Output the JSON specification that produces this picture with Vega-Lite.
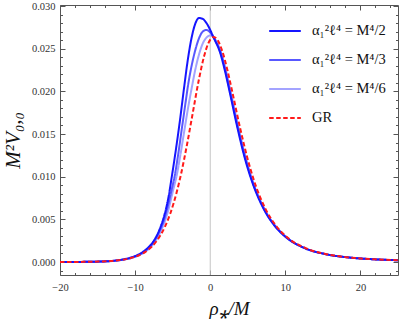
{
  "$schema": "https://vega.github.io/schema/vega-lite/v6.json",
  "width": 338,
  "height": 270,
  "autosize": "none",
  "padding": {"left": 60, "top": 5, "right": 1, "bottom": 52},
  "background": "white",
  "config": {
    "view": {"stroke": "#555555", "strokeWidth": 1},
    "axis": {"domain": false, "grid": false, "labelFont": "Liberation Serif", "labelFontSize": 10.5, "labelColor": "#333333", "tickColor": "#555555", "titleFont": "Liberation Serif", "titleColor": "#111111", "titleFontWeight": "normal", "labelFlush": false}
  },
  "datasets": {
    "curves": [
      {"s": "α₁²ℓ⁴ = M⁴/6", "x": -20, "y": 0.000005},
      {"s": "α₁²ℓ⁴ = M⁴/6", "x": -17, "y": 0.000016},
      {"s": "α₁²ℓ⁴ = M⁴/6", "x": -14, "y": 0.00007},
      {"s": "α₁²ℓ⁴ = M⁴/6", "x": -12, "y": 0.00021},
      {"s": "α₁²ℓ⁴ = M⁴/6", "x": -10.5, "y": 0.00047},
      {"s": "α₁²ℓ⁴ = M⁴/6", "x": -9.5, "y": 0.0008},
      {"s": "α₁²ℓ⁴ = M⁴/6", "x": -8.5, "y": 0.0013},
      {"s": "α₁²ℓ⁴ = M⁴/6", "x": -7.5, "y": 0.0022},
      {"s": "α₁²ℓ⁴ = M⁴/6", "x": -6.8, "y": 0.0032},
      {"s": "α₁²ℓ⁴ = M⁴/6", "x": -6.2, "y": 0.0044},
      {"s": "α₁²ℓ⁴ = M⁴/6", "x": -5.6, "y": 0.006},
      {"s": "α₁²ℓ⁴ = M⁴/6", "x": -5, "y": 0.0082},
      {"s": "α₁²ℓ⁴ = M⁴/6", "x": -4.45, "y": 0.0102},
      {"s": "α₁²ℓ⁴ = M⁴/6", "x": -4, "y": 0.0124},
      {"s": "α₁²ℓ⁴ = M⁴/6", "x": -3.5, "y": 0.0151},
      {"s": "α₁²ℓ⁴ = M⁴/6", "x": -3, "y": 0.0178},
      {"s": "α₁²ℓ⁴ = M⁴/6", "x": -2.4, "y": 0.0207},
      {"s": "α₁²ℓ⁴ = M⁴/6", "x": -2, "y": 0.0225},
      {"s": "α₁²ℓ⁴ = M⁴/6", "x": -1.5, "y": 0.0243},
      {"s": "α₁²ℓ⁴ = M⁴/6", "x": -1, "y": 0.0256},
      {"s": "α₁²ℓ⁴ = M⁴/6", "x": -0.5, "y": 0.0263},
      {"s": "α₁²ℓ⁴ = M⁴/6", "x": 0, "y": 0.02655},
      {"s": "α₁²ℓ⁴ = M⁴/6", "x": 0.4, "y": 0.0264},
      {"s": "α₁²ℓ⁴ = M⁴/6", "x": 0.8, "y": 0.0259},
      {"s": "α₁²ℓ⁴ = M⁴/6", "x": 1.4, "y": 0.02469},
      {"s": "α₁²ℓ⁴ = M⁴/6", "x": 2.1, "y": 0.02241},
      {"s": "α₁²ℓ⁴ = M⁴/6", "x": 2.72, "y": 0.01999},
      {"s": "α₁²ℓ⁴ = M⁴/6", "x": 3.8, "y": 0.015625},
      {"s": "α₁²ℓ⁴ = M⁴/6", "x": 4.75, "y": 0.012193},
      {"s": "α₁²ℓ⁴ = M⁴/6", "x": 5.62, "y": 0.0096},
      {"s": "α₁²ℓ⁴ = M⁴/6", "x": 7.25, "y": 0.006173},
      {"s": "α₁²ℓ⁴ = M⁴/6", "x": 8.73, "y": 0.004165},
      {"s": "α₁²ℓ⁴ = M⁴/6", "x": 10.12, "y": 0.00293},
      {"s": "α₁²ℓ⁴ = M⁴/6", "x": 12.7, "y": 0.0016},
      {"s": "α₁²ℓ⁴ = M⁴/6", "x": 15.17, "y": 0.000965},
      {"s": "α₁²ℓ⁴ = M⁴/6", "x": 18.72, "y": 0.000514},
      {"s": "α₁²ℓ⁴ = M⁴/6", "x": 22.15, "y": 0.000305},
      {"s": "α₁²ℓ⁴ = M⁴/6", "x": 25.5, "y": 0.000195},

      {"s": "α₁²ℓ⁴ = M⁴/3", "x": -20, "y": 0.000005},
      {"s": "α₁²ℓ⁴ = M⁴/3", "x": -17, "y": 0.000017},
      {"s": "α₁²ℓ⁴ = M⁴/3", "x": -14, "y": 0.000075},
      {"s": "α₁²ℓ⁴ = M⁴/3", "x": -12, "y": 0.00023},
      {"s": "α₁²ℓ⁴ = M⁴/3", "x": -10.5, "y": 0.0005},
      {"s": "α₁²ℓ⁴ = M⁴/3", "x": -9.5, "y": 0.00085},
      {"s": "α₁²ℓ⁴ = M⁴/3", "x": -8.5, "y": 0.0014},
      {"s": "α₁²ℓ⁴ = M⁴/3", "x": -7.5, "y": 0.0024},
      {"s": "α₁²ℓ⁴ = M⁴/3", "x": -6.8, "y": 0.0035},
      {"s": "α₁²ℓ⁴ = M⁴/3", "x": -6.2, "y": 0.0048},
      {"s": "α₁²ℓ⁴ = M⁴/3", "x": -5.6, "y": 0.0067},
      {"s": "α₁²ℓ⁴ = M⁴/3", "x": -5.1, "y": 0.0086},
      {"s": "α₁²ℓ⁴ = M⁴/3", "x": -4.75, "y": 0.01},
      {"s": "α₁²ℓ⁴ = M⁴/3", "x": -4.3, "y": 0.0124},
      {"s": "α₁²ℓ⁴ = M⁴/3", "x": -3.8, "y": 0.0155},
      {"s": "α₁²ℓ⁴ = M⁴/3", "x": -3.3, "y": 0.0186},
      {"s": "α₁²ℓ⁴ = M⁴/3", "x": -2.9, "y": 0.021},
      {"s": "α₁²ℓ⁴ = M⁴/3", "x": -2.5, "y": 0.0229},
      {"s": "α₁²ℓ⁴ = M⁴/3", "x": -2, "y": 0.0248},
      {"s": "α₁²ℓ⁴ = M⁴/3", "x": -1.5, "y": 0.0262},
      {"s": "α₁²ℓ⁴ = M⁴/3", "x": -1, "y": 0.027},
      {"s": "α₁²ℓ⁴ = M⁴/3", "x": -0.5, "y": 0.0272},
      {"s": "α₁²ℓ⁴ = M⁴/3", "x": 0, "y": 0.0269},
      {"s": "α₁²ℓ⁴ = M⁴/3", "x": 0.4, "y": 0.0264},
      {"s": "α₁²ℓ⁴ = M⁴/3", "x": 0.7, "y": 0.0259},
      {"s": "α₁²ℓ⁴ = M⁴/3", "x": 1.33, "y": 0.02469},
      {"s": "α₁²ℓ⁴ = M⁴/3", "x": 2.03, "y": 0.02241},
      {"s": "α₁²ℓ⁴ = M⁴/3", "x": 2.64, "y": 0.01999},
      {"s": "α₁²ℓ⁴ = M⁴/3", "x": 3.72, "y": 0.015625},
      {"s": "α₁²ℓ⁴ = M⁴/3", "x": 4.67, "y": 0.012193},
      {"s": "α₁²ℓ⁴ = M⁴/3", "x": 5.56, "y": 0.0096},
      {"s": "α₁²ℓ⁴ = M⁴/3", "x": 7.2, "y": 0.006173},
      {"s": "α₁²ℓ⁴ = M⁴/3", "x": 8.7, "y": 0.004165},
      {"s": "α₁²ℓ⁴ = M⁴/3", "x": 10.08, "y": 0.00293},
      {"s": "α₁²ℓ⁴ = M⁴/3", "x": 12.68, "y": 0.0016},
      {"s": "α₁²ℓ⁴ = M⁴/3", "x": 15.15, "y": 0.000965},
      {"s": "α₁²ℓ⁴ = M⁴/3", "x": 18.7, "y": 0.000514},
      {"s": "α₁²ℓ⁴ = M⁴/3", "x": 22.14, "y": 0.000305},
      {"s": "α₁²ℓ⁴ = M⁴/3", "x": 25.5, "y": 0.000195},

      {"s": "α₁²ℓ⁴ = M⁴/2", "x": -20, "y": 0.000005},
      {"s": "α₁²ℓ⁴ = M⁴/2", "x": -17, "y": 0.000018},
      {"s": "α₁²ℓ⁴ = M⁴/2", "x": -14, "y": 0.00008},
      {"s": "α₁²ℓ⁴ = M⁴/2", "x": -12, "y": 0.00025},
      {"s": "α₁²ℓ⁴ = M⁴/2", "x": -10.5, "y": 0.00055},
      {"s": "α₁²ℓ⁴ = M⁴/2", "x": -9.5, "y": 0.0009},
      {"s": "α₁²ℓ⁴ = M⁴/2", "x": -8.5, "y": 0.0015},
      {"s": "α₁²ℓ⁴ = M⁴/2", "x": -7.5, "y": 0.0025},
      {"s": "α₁²ℓ⁴ = M⁴/2", "x": -6.8, "y": 0.0037},
      {"s": "α₁²ℓ⁴ = M⁴/2", "x": -6.2, "y": 0.0052},
      {"s": "α₁²ℓ⁴ = M⁴/2", "x": -5.6, "y": 0.0074},
      {"s": "α₁²ℓ⁴ = M⁴/2", "x": -5.1, "y": 0.0101},
      {"s": "α₁²ℓ⁴ = M⁴/2", "x": -4.5, "y": 0.0136},
      {"s": "α₁²ℓ⁴ = M⁴/2", "x": -4, "y": 0.0168},
      {"s": "α₁²ℓ⁴ = M⁴/2", "x": -3.5, "y": 0.0203},
      {"s": "α₁²ℓ⁴ = M⁴/2", "x": -3, "y": 0.0236},
      {"s": "α₁²ℓ⁴ = M⁴/2", "x": -2.5, "y": 0.0262},
      {"s": "α₁²ℓ⁴ = M⁴/2", "x": -2, "y": 0.0279},
      {"s": "α₁²ℓ⁴ = M⁴/2", "x": -1.5, "y": 0.0286},
      {"s": "α₁²ℓ⁴ = M⁴/2", "x": -1, "y": 0.0285},
      {"s": "α₁²ℓ⁴ = M⁴/2", "x": -0.5, "y": 0.028},
      {"s": "α₁²ℓ⁴ = M⁴/2", "x": 0, "y": 0.0272},
      {"s": "α₁²ℓ⁴ = M⁴/2", "x": 0.3, "y": 0.0266},
      {"s": "α₁²ℓ⁴ = M⁴/2", "x": 0.62, "y": 0.026},
      {"s": "α₁²ℓ⁴ = M⁴/2", "x": 1.26, "y": 0.02469},
      {"s": "α₁²ℓ⁴ = M⁴/2", "x": 1.96, "y": 0.02241},
      {"s": "α₁²ℓ⁴ = M⁴/2", "x": 2.575, "y": 0.01999},
      {"s": "α₁²ℓ⁴ = M⁴/2", "x": 3.65, "y": 0.015625},
      {"s": "α₁²ℓ⁴ = M⁴/2", "x": 4.6, "y": 0.012193},
      {"s": "α₁²ℓ⁴ = M⁴/2", "x": 5.5, "y": 0.0096},
      {"s": "α₁²ℓ⁴ = M⁴/2", "x": 7.15, "y": 0.006173},
      {"s": "α₁²ℓ⁴ = M⁴/2", "x": 8.65, "y": 0.004165},
      {"s": "α₁²ℓ⁴ = M⁴/2", "x": 10.05, "y": 0.00293},
      {"s": "α₁²ℓ⁴ = M⁴/2", "x": 12.65, "y": 0.0016},
      {"s": "α₁²ℓ⁴ = M⁴/2", "x": 15.13, "y": 0.000965},
      {"s": "α₁²ℓ⁴ = M⁴/2", "x": 18.7, "y": 0.000514},
      {"s": "α₁²ℓ⁴ = M⁴/2", "x": 22.13, "y": 0.000305},
      {"s": "α₁²ℓ⁴ = M⁴/2", "x": 25.5, "y": 0.000195},

      {"s": "GR", "x": -20, "y": 0.000004},
      {"s": "GR", "x": -17.8, "y": 0.0000125},
      {"s": "GR", "x": -15.5, "y": 0.00004},
      {"s": "GR", "x": -13.2, "y": 0.000125},
      {"s": "GR", "x": -11, "y": 0.000374},
      {"s": "GR", "x": -10, "y": 0.000612},
      {"s": "GR", "x": -9, "y": 0.001001},
      {"s": "GR", "x": -8.587, "y": 0.001225},
      {"s": "GR", "x": -7.19, "y": 0.002402},
      {"s": "GR", "x": -6.056, "y": 0.004082},
      {"s": "GR", "x": -5.328, "y": 0.005662},
      {"s": "GR", "x": -4.492, "y": 0.008091},
      {"s": "GR", "x": -3.891, "y": 0.010284},
      {"s": "GR", "x": -3.031, "y": 0.01404},
      {"s": "GR", "x": -2.405, "y": 0.017075},
      {"s": "GR", "x": -1.494, "y": 0.02144},
      {"s": "GR", "x": -0.819, "y": 0.02411},
      {"s": "GR", "x": -0.273, "y": 0.0256},
      {"s": "GR", "x": 0.192, "y": 0.02626},
      {"s": "GR", "x": 0.47, "y": 0.02637},
      {"s": "GR", "x": 0.967, "y": 0.02603},
      {"s": "GR", "x": 1.614, "y": 0.02469},
      {"s": "GR", "x": 2.31, "y": 0.02241},
      {"s": "GR", "x": 2.925, "y": 0.01999},
      {"s": "GR", "x": 4, "y": 0.015625},
      {"s": "GR", "x": 4.946, "y": 0.012193},
      {"s": "GR", "x": 5.811, "y": 0.0096},
      {"s": "GR", "x": 7.386, "y": 0.006173},
      {"s": "GR", "x": 8.833, "y": 0.004165},
      {"s": "GR", "x": 10.197, "y": 0.00293},
      {"s": "GR", "x": 12.773, "y": 0.0016},
      {"s": "GR", "x": 15.219, "y": 0.000965},
      {"s": "GR", "x": 18.744, "y": 0.000514},
      {"s": "GR", "x": 22.159, "y": 0.000305},
      {"s": "GR", "x": 25.503, "y": 0.000195}
    ],
    "zero": [{"x": 0}],
    "frame": [{"x": -20, "y": 0}, {"x": 25, "y": 0.03}]
  },
  "resolve": {"axis": {"x": "independent", "y": "independent"}},
  "layer": [
    {
      "data": {"name": "zero"},
      "mark": {"type": "rule", "color": "#c4c4c4", "strokeWidth": 1},
      "encoding": {
        "x": {"field": "x", "type": "quantitative", "scale": {"domain": [-20, 25], "nice": false, "zero": false},
          "axis": {"orient": "top", "values": [-20, -10, 0, 10, 20], "tickSize": -5, "labels": false, "title": null}}
      }
    },
    {
      "data": {"name": "frame"},
      "mark": {"type": "point", "opacity": 0},
      "encoding": {
        "x": {"field": "x", "type": "quantitative", "scale": {"domain": [-20, 25], "nice": false, "zero": false},
          "axis": {"orient": "bottom", "values": [-18, -16, -14, -12, -8, -6, -4, -2, 2, 4, 6, 8, 12, 14, 16, 18, 22, 24], "tickSize": -2.5, "labels": false, "title": null}},
        "y": {"field": "y", "type": "quantitative", "scale": {"domain": [-0.00152, 0.03012], "nice": false, "zero": false},
          "axis": {"orient": "left", "values": [-0.001, 0.001, 0.002, 0.003, 0.004, 0.006, 0.007, 0.008, 0.009, 0.011, 0.012, 0.013, 0.014, 0.016, 0.017, 0.018, 0.019, 0.021, 0.022, 0.023, 0.024, 0.026, 0.027, 0.028, 0.029], "tickSize": -2.5, "labels": false, "title": null}}
      }
    },
    {
      "data": {"name": "frame"},
      "mark": {"type": "point", "opacity": 0},
      "encoding": {
        "x": {"field": "x", "type": "quantitative", "scale": {"domain": [-20, 25], "nice": false, "zero": false},
          "axis": {"orient": "top", "values": [-18, -16, -14, -12, -8, -6, -4, -2, 2, 4, 6, 8, 12, 14, 16, 18, 22, 24], "tickSize": -2.5, "labels": false, "title": null}},
        "y": {"field": "y", "type": "quantitative", "scale": {"domain": [-0.00152, 0.03012], "nice": false, "zero": false},
          "axis": {"orient": "right", "values": [-0.001, 0.001, 0.002, 0.003, 0.004, 0.006, 0.007, 0.008, 0.009, 0.011, 0.012, 0.013, 0.014, 0.016, 0.017, 0.018, 0.019, 0.021, 0.022, 0.023, 0.024, 0.026, 0.027, 0.028, 0.029], "tickSize": -2.5, "labels": false, "title": null}}
      }
    },
    {
      "data": {"name": "frame"},
      "mark": {"type": "point", "opacity": 0},
      "encoding": {
        "x": {"field": "x", "type": "quantitative", "scale": {"domain": [-20, 25], "nice": false, "zero": false}, "axis": null},
        "y": {"field": "y", "type": "quantitative", "scale": {"domain": [-0.00152, 0.03012], "nice": false, "zero": false},
          "axis": {"orient": "right", "values": [0, 0.005, 0.01, 0.015, 0.02, 0.025, 0.03], "tickSize": -5, "labels": false, "title": null}}
      }
    },
    {
      "data": {"name": "curves"},
      "mark": {"type": "line", "strokeWidth": 2, "interpolate": "monotone", "clip": true},
      "encoding": {
        "x": {"field": "x", "type": "quantitative", "scale": {"domain": [-20, 25], "nice": false, "zero": false},
          "axis": {"orient": "bottom", "values": [-20, -10, 0, 10, 20], "tickSize": -5, "labelPadding": 12, "labelFlush": false, "title": "ρ⁎/M", "titleFontSize": 19, "titleFontStyle": "italic", "titlePadding": 7}},
        "y": {"field": "y", "type": "quantitative", "scale": {"domain": [-0.00152, 0.03012], "nice": false, "zero": false},
          "axis": {"orient": "left", "values": [0, 0.005, 0.01, 0.015, 0.02, 0.025, 0.03], "format": ".3f", "tickSize": -5, "labelPadding": 10, "title": "M²V₀,₀", "titleFontSize": 21, "titleFontStyle": "italic", "titlePadding": 8}},
        "color": {"field": "s", "type": "nominal",
          "scale": {"domain": ["α₁²ℓ⁴ = M⁴/2", "α₁²ℓ⁴ = M⁴/3", "α₁²ℓ⁴ = M⁴/6", "GR"], "range": ["#1515ff", "#5858ff", "#a3a3ff", "#ff1a1a"]},
          "legend": {"orient": "none", "legendX": 208, "legendY": 9, "title": null, "symbolType": "stroke", "symbolSize": 1000, "symbolStrokeWidth": 2, "labelFont": "Liberation Serif", "labelFontSize": 14.5, "labelColor": "#111111", "labelOffset": 10, "rowPadding": 5}},
        "strokeDash": {"field": "s", "type": "nominal",
          "scale": {"domain": ["α₁²ℓ⁴ = M⁴/2", "α₁²ℓ⁴ = M⁴/3", "α₁²ℓ⁴ = M⁴/6", "GR"], "range": [[1, 0], [1, 0], [1, 0], [4.5, 2.5]]},
          "legend": {"orient": "none", "legendX": 208, "legendY": 9, "title": null, "symbolType": "stroke", "symbolSize": 1000, "symbolStrokeWidth": 2, "labelFont": "Liberation Serif", "labelFontSize": 14.5, "labelColor": "#111111", "labelOffset": 10, "rowPadding": 5}}
      }
    }
  ]
}
